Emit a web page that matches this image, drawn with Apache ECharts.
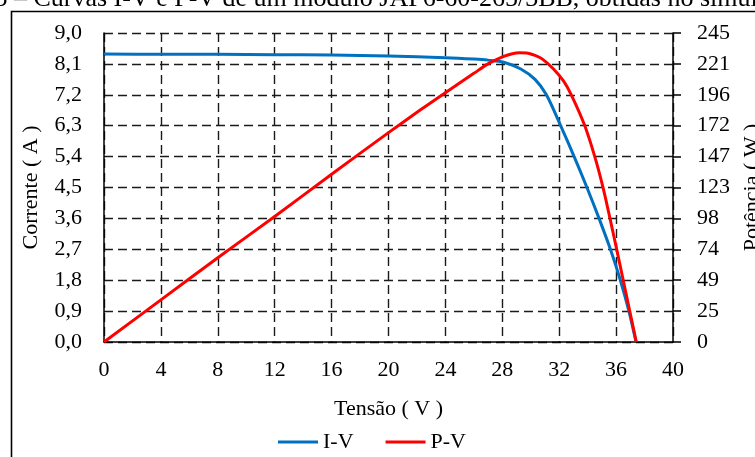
<!DOCTYPE html>
<html>
<head>
<meta charset="utf-8">
<script src="https://cdn.jsdelivr.net/npm/echarts@6/dist/echarts.min.js"></script>
<style>
html,body{margin:0;padding:0;background:#fff;}
#chart{width:755px;height:457px;}
</style>
</head>
<body>
<div id="chart"></div>
<script>
// ---- Data ----
const titleText = "Figura 3 – Curvas I-V e P-V de um módulo JAP6-60-265/3BB, obtidas no simulador";
const xName = "Tensão ( V )";
const yLeftName = "Corrente ( A )";
const yRightName = "Potência ( W )";
const seriesNames = ["I-V", "P-V"];

// I-V curve: voltage (V) and current (A)
const ivVoltage = [0, 4, 8, 12, 16, 20, 24, 26, 27, 28.1, 29.3, 30.3, 31.1, 32.1, 33.05, 33.95, 34.8, 35.6, 36.3, 36.9, 37.4];
const ivCurrent = [8.39, 8.38, 8.38, 8.37, 8.36, 8.33, 8.28, 8.24, 8.21, 8.15, 7.95, 7.65, 7.2, 6.3, 5.4, 4.5, 3.6, 2.7, 1.8, 0.9, 0];

// P-V curve: voltage (V) and power (W)
const pvVoltage = [0, 4, 8, 12, 16, 20, 22.3, 24.1, 26, 27, 28.1, 28.7, 29.2, 29.7, 30.3, 30.8, 31.6, 32.3, 32.85, 33.78, 34.5, 35.07, 35.57, 36.03, 36.5, 36.95, 37.42];
const pvPower = [0, 33.4, 66.8, 99.5, 133, 166, 184.5, 198.5, 213, 220.5, 226.4, 228.6, 229.4, 229.2, 227.2, 224.5, 216.5, 207, 196, 172, 147, 123, 98, 74, 49, 25, 0];

// Axis settings
const xMin = 0, xMax = 40, xStep = 4;
const yLeftMin = 0, yLeftMax = 9, yLeftStep = 0.9;
const yRightMin = 0, yRightMax = 245, yRightStep = 24.5;

// ---- Chart ----
const font = "'Liberation Serif', 'Times New Roman', serif";
const fs = 22;
const chart = echarts.init(document.getElementById('chart'), null, {renderer: 'canvas'});

const gridDash = {type: [9, 5], color: '#1a1a1a', width: 1.4};

const option = {
  animation: false,
  backgroundColor: '#fff',
  textStyle: {fontFamily: font, color: '#000'},
  grid: {left: 104, right: 82, top: 33, bottom: 115, containLabel: false, outerBoundsMode: 'none'},
  legend: {
    data: seriesNames,
    left: 273,
    top: 426,
    icon: 'rect',
    itemWidth: 40,
    itemHeight: 3,
    itemGap: 32,
    textStyle: {fontFamily: font, fontSize: fs, color: '#000'}
  },
  xAxis: {
    type: 'value',
    min: xMin, max: xMax, interval: xStep,
    name: xName,
    nameLocation: 'middle',
    nameGap: 56,
    nameTextStyle: {fontFamily: font, fontSize: fs, color: '#000'},
    axisLine: {show: true, onZero: false, lineStyle: {color: '#000', width: 1.5}},
    axisTick: {show: false},
    axisLabel: {fontFamily: font, fontSize: fs, color: '#000', margin: 17},
    splitLine: {show: true, lineStyle: gridDash}
  },
  yAxis: [
    {
      type: 'value',
      position: 'left',
      min: yLeftMin, max: yLeftMax, interval: yLeftStep,
      name: yLeftName,
      nameLocation: 'middle',
      nameGap: 62,
      nameTextStyle: {fontFamily: font, fontSize: fs, color: '#000'},
      axisLine: {show: true, lineStyle: {color: '#000', width: 1.5}},
      axisTick: {show: false},
      axisLabel: {
        fontFamily: font, fontSize: fs, color: '#000', margin: 22,
        formatter: v => v.toFixed(1).replace('.', ',')
      },
      splitLine: {show: true, lineStyle: gridDash}
    },
    {
      type: 'value',
      position: 'right',
      min: yRightMin, max: yRightMax, interval: yRightStep,
      name: yRightName,
      nameLocation: 'middle',
      nameGap: 66,
      nameTextStyle: {fontFamily: font, fontSize: fs, color: '#000'},
      axisLine: {show: true, lineStyle: {color: '#000', width: 1.5}},
      axisTick: {show: true, inside: false, length: 8, lineStyle: {color: '#000', width: 1.5}},
      axisLabel: {
        fontFamily: font, fontSize: fs, color: '#000', margin: 24,
        formatter: v => String(Math.round(v))
      },
      splitLine: {show: false}
    }
  ],
  series: [
    {
      name: seriesNames[0],
      type: 'line',
      yAxisIndex: 0,
      data: ivVoltage.map((v, i) => [v, ivCurrent[i]]),
      showSymbol: false,
      smooth: 0.3,
      lineStyle: {color: '#0070C0', width: 3},
      itemStyle: {color: '#0070C0'}
    },
    {
      name: seriesNames[1],
      type: 'line',
      yAxisIndex: 1,
      data: pvVoltage.map((v, i) => [v, pvPower[i]]),
      showSymbol: false,
      smooth: 0.3,
      lineStyle: {color: '#FF0000', width: 3},
      itemStyle: {color: '#FF0000'}
    }
  ],
  graphic: [
    {
      type: 'rect',
      silent: true,
      shape: {x: 11.5, y: 11.5, width: 800, height: 500},
      style: {fill: null, stroke: '#000', lineWidth: 1.6}
    },
    {
      type: 'text',
      silent: true,
      x: -80, y: -1,
      style: {
        text: titleText,
        fontFamily: font,
        fontSize: 26,
        fill: '#000',
        textAlign: 'left',
        textVerticalAlign: 'middle'
      }
    }
  ]
};
chart.setOption(option);
</script>
</body>
</html>
